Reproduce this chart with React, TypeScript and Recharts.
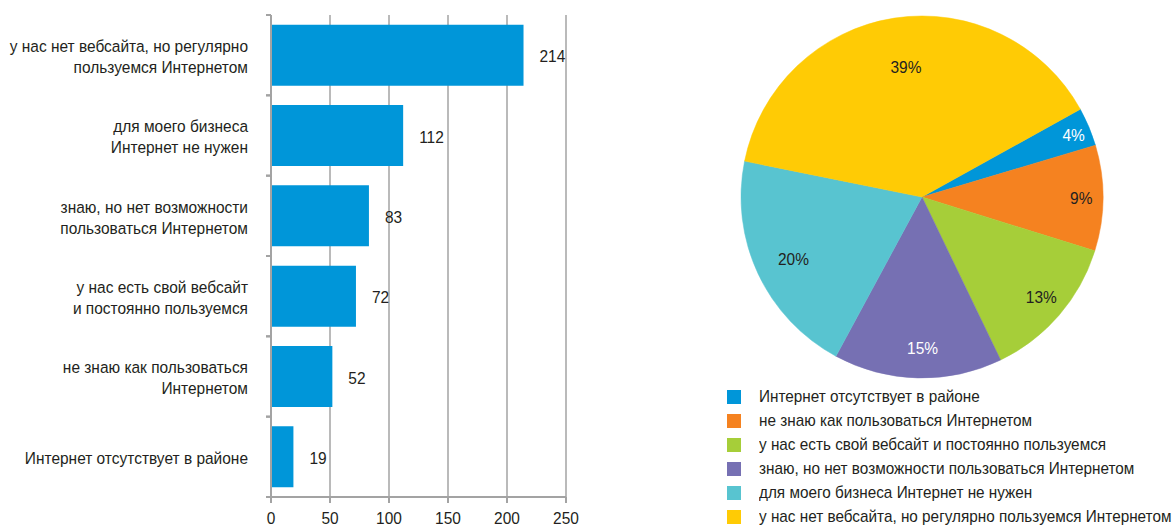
import React from "react";
import { BarChart, Bar, XAxis, YAxis, CartesianGrid, LabelList, PieChart, Pie, Cell } from "recharts";

const categories = [
  "Интернет отсутствует в районе",
  "не знаю как пользоваться Интернетом",
  "у нас есть свой вебсайт и постоянно пользуемся",
  "знаю, но нет возможности пользоваться Интернетом",
  "для моего бизнеса Интернет не нужен",
  "у нас нет вебсайта, но регулярно пользуемся Интернетом",
];
const categoryLines = [
  ["Интернет отсутствует в районе"],
  ["не знаю как пользоваться", "Интернетом"],
  ["у нас есть свой вебсайт", "и постоянно пользуемся"],
  ["знаю, но нет возможности", "пользоваться Интернетом"],
  ["для моего бизнеса", "Интернет не нужен"],
  ["у нас нет вебсайта, но регулярно", "пользуемся Интернетом"],
];
const counts = [19, 52, 72, 83, 112, 214];
const percentLabels = ["4%", "9%", "13%", "15%", "20%", "39%"];
const xTicks = [0, 50, 100, 150, 200, 250];

const BAR_COLOR = "#0096d9";
const PIE_COLORS = ["#0096d9", "#f58220", "#a6ce39", "#7670b3", "#58c4d0", "#ffcb05"];
const PIE_LABEL_COLORS = ["#ffffff", "#231f20", "#231f20", "#ffffff", "#231f20", "#231f20"];
const FONT = "'Liberation Sans', Arial, sans-serif";
const FS = 17;
const SX = 0.91;
const LEGEND_SX = 0.9;
const TEXT = "#231f20";
const AXIS = "#a3a3a3";

const data = categories.map((name, i) => ({ name, value: counts[i], pct: percentLabels[i] }));

const TICK_SIZE = 6;
const TICK_MARGIN = 17;
const LINE_H = 21;

function NarrowText(props: { x: number; y: number; anchor: "start" | "middle" | "end"; fill?: string; children: any }) {
  const { x, y, anchor, fill, children } = props;
  return (
    <g transform={`translate(${x} ${y}) scale(${SX} 1)`}>
      <text x={0} y={0} textAnchor={anchor} dominantBaseline="central" fill={fill || TEXT} fontSize={FS} fontFamily={FONT}>
        {children}
      </text>
    </g>
  );
}

function CategoryTick(props: any) {
  const { x, y, payload } = props;
  const idx = categories.indexOf(payload.value);
  const lines = idx >= 0 ? categoryLines[idx] : [String(payload.value)];
  const axisX = x + TICK_SIZE + TICK_MARGIN;
  const half = payload.offset || 0;
  const start = y + 1 - ((lines.length - 1) * LINE_H) / 2;
  return (
    <g>
      {half > 0 && (
        <>
          <line x1={axisX - 5} x2={axisX} y1={y - half} y2={y - half} stroke={AXIS} strokeWidth={2} />
          <line x1={axisX - 5} x2={axisX} y1={y + half} y2={y + half} stroke={AXIS} strokeWidth={2} />
        </>
      )}
      {lines.map((l, i) => (
        <NarrowText key={i} x={x} y={start + i * LINE_H} anchor="end">
          {l}
        </NarrowText>
      ))}
    </g>
  );
}

function XTick(props: any) {
  const { x, y, payload } = props;
  return (
    <NarrowText x={x} y={y + 5} anchor="middle">
      {payload.value}
    </NarrowText>
  );
}

function ValueLabel(props: any) {
  const { x, y, width, height, value } = props;
  return (
    <NarrowText x={Number(x) + Number(width) + 16} y={Number(y) + Number(height) / 2 + 1} anchor="start">
      {value}
    </NarrowText>
  );
}

const RAD = Math.PI / 180;
function renderPieLabel(props: any) {
  const { cx, cy, midAngle, outerRadius, percent, index } = props;
  const r = outerRadius * (0.9 - 0.45 * (percent || 0));
  const x = cx + r * Math.cos(-midAngle * RAD);
  const y = cy + r * Math.sin(-midAngle * RAD);
  return (
    <NarrowText key={`l${index}`} x={x + 4} y={y} anchor="middle" fill={PIE_LABEL_COLORS[index]}>
      {percentLabels[index]}
    </NarrowText>
  );
}

export default function App() {
  return (
    <div style={{ position: "absolute", left: 0, top: 0, width: 1174, height: 526, background: "#fff", overflow: "hidden" }}>
      <div style={{ position: "absolute", left: 0, top: 0 }}>
        <BarChart width={600} height={526} data={data} layout="vertical" margin={{ top: 15, right: 34, bottom: 0, left: 0 }} barCategoryGap="12%">
          <CartesianGrid horizontal={false} stroke={AXIS} strokeWidth={1.5} />
          <XAxis
            type="number"
            domain={[0, 250]}
            ticks={xTicks}
            height={29}
            axisLine={{ stroke: AXIS, strokeWidth: 2 }}
            tickLine={{ stroke: AXIS, strokeWidth: 2 }}
            tickSize={6}
            tickMargin={10}
            tick={<XTick />}
          />
          <YAxis
            type="category"
            dataKey="name"
            reversed
            width={271}
            axisLine={{ stroke: AXIS, strokeWidth: 2 }}
            tickLine={false}
            tickSize={TICK_SIZE}
            tickMargin={TICK_MARGIN}
            tick={<CategoryTick />}
            interval={0}
          />
          <Bar dataKey="value" fill={BAR_COLOR} isAnimationActive={false}>
            <LabelList dataKey="value" content={<ValueLabel />} />
          </Bar>
        </BarChart>
      </div>
      <div style={{ position: "absolute", left: 720, top: 0 }}>
        <PieChart width={454} height={385} margin={{ top: 0, right: 0, bottom: 0, left: 0 }}>
          <Pie
            data={data}
            dataKey="value"
            nameKey="name"
            cx={202}
            cy={197}
            outerRadius={181}
            startAngle={29}
            endAngle={-331}
            label={renderPieLabel}
            labelLine={false}
            isAnimationActive={false}
          >
            {data.map((d, i) => (
              <Cell key={i} fill={PIE_COLORS[i]} stroke={PIE_COLORS[i]} strokeWidth={0.5} />
            ))}
          </Pie>
        </PieChart>
      </div>
      <div style={{ position: "absolute", left: 727, top: 385, fontFamily: FONT, fontSize: FS, color: TEXT }}>
        {categories.map((c, i) => (
          <div key={i} style={{ display: "flex", alignItems: "center", height: 24 }}>
            <span style={{ display: "inline-block", width: 14, height: 14, background: PIE_COLORS[i], marginRight: 18, flex: "none" }} />
            <span style={{ whiteSpace: "nowrap", display: "inline-block", transform: `scaleX(${LEGEND_SX})`, transformOrigin: "left center" }}>{c}</span>
          </div>
        ))}
      </div>
    </div>
  );
}
